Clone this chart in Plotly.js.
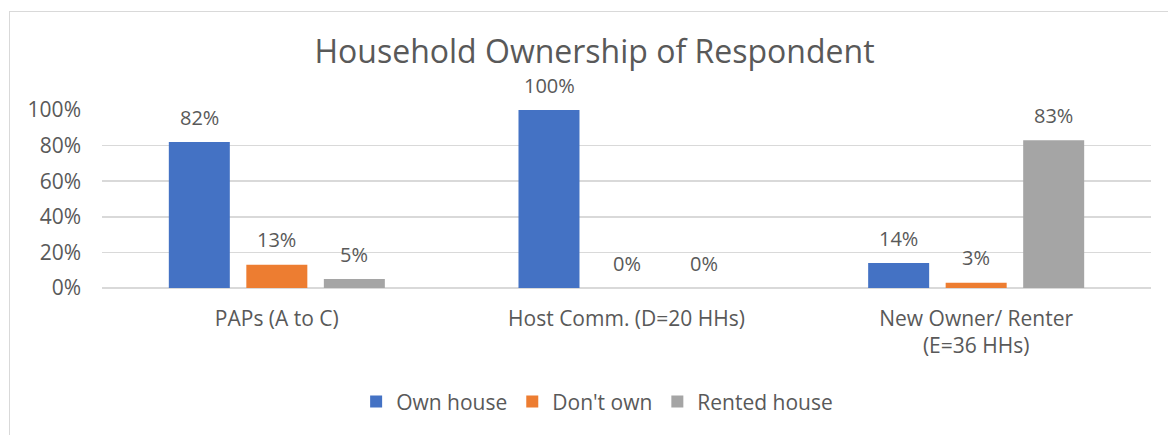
<!DOCTYPE html>
<html>
<head>
<meta charset="utf-8">
<script src="https://cdn.plot.ly/plotly-3.0.1.min.js"></script>
<style>
  body { margin: 0; background: #fff; }
  #chart { position: absolute; left: 0; top: 0; width: 1168px; height: 435px; }
  #frame { position: absolute; left: 9px; top: 11px; width: 1200px; height: 500px;
           border-left: 1px solid #d9d9d9; border-top: 1px solid #d9d9d9; pointer-events: none; }
</style>
</head>
<body>
<div id="chart"></div>
<div id="frame"></div>
<script>
const categories = ['PAPs (A to C)', 'Host Comm. (D=20 HHs)', 'New Owner/ Renter<br>(E=36 HHs)'];
const ownHouse = [0.82, 1.00, 0.14];
const dontOwn = [0.13, 0.00, 0.03];
const rentedHouse = [0.05, 0.00, 0.83];
const seriesNames = ['Own house', "Don't own", 'Rented house'];
const seriesColors = ['#4472C4', '#ED7D31', '#A5A5A5'];
const yTicks = [0, 0.2, 0.4, 0.6, 0.8, 1.0];

const textColor = '#595959';
const font = 'Open Sans, sans-serif';
const allSeries = [ownHouse, dontOwn, rentedHouse];

const traces = allSeries.map((vals, i) => ({
    type: 'bar',
    name: seriesNames[i],
    x: categories,
    y: vals,
    marker: { color: seriesColors[i] },
    hoverinfo: 'none'
}));

// value labels above each bar
const slot = 77.5;
const annotations = [];
allSeries.forEach((vals, i) => {
    vals.forEach((v, j) => {
        annotations.push({
            xref: 'x', yref: 'y',
            x: categories[j], y: v,
            xshift: (i - 1) * slot,
            yshift: 25,
            yanchor: 'middle',
            text: Math.round(v * 100) + '%',
            showarrow: false,
            font: { family: font, size: 20, color: textColor }
        });
    });
});

const layout = {
    width: 1168,
    height: 435,
    margin: { l: 102, r: 17, t: 110, b: 147 },
    paper_bgcolor: '#fff',
    plot_bgcolor: '#fff',
    font: { family: font, size: 21, color: textColor },
    title: {
        text: 'Household Ownership of Respondent',
        font: { family: font, size: 32, color: textColor },
        x: 0.509, xanchor: 'center',
        y: 0.88, yanchor: 'middle', yref: 'container'
    },
    barmode: 'group',
    bargap: 0.335,
    bargroupgap: 0.213,
    xaxis: {
        showgrid: false,
        showline: false,
        ticks: '',
        ticklabelstandoff: 16,
        tickfont: { family: font, size: 21, color: textColor }
    },
    yaxis: {
        range: [0, 1],
        tickvals: yTicks,
        tickformat: '.0%',
        showgrid: true,
        gridcolor: '#d9d9d9',
        gridwidth: 1.5,
        zeroline: true,
        zerolinecolor: '#d9d9d9',
        zerolinewidth: 1.5,
        showline: false,
        ticks: '',
        ticklabelstandoff: 20,
        tickfont: { family: font, size: 21, color: textColor }
    },
    showlegend: true,
    legend: {
        orientation: 'h',
        x: 0.472, xanchor: 'center',
        y: -0.64, yanchor: 'middle',
        font: { family: font, size: 21, color: textColor },
        itemwidth: 30,
        traceorder: 'normal'
    },
    annotations: annotations
};

Plotly.newPlot('chart', traces, layout, { displayModeBar: false, staticPlot: true });
</script>
</body>
</html>
